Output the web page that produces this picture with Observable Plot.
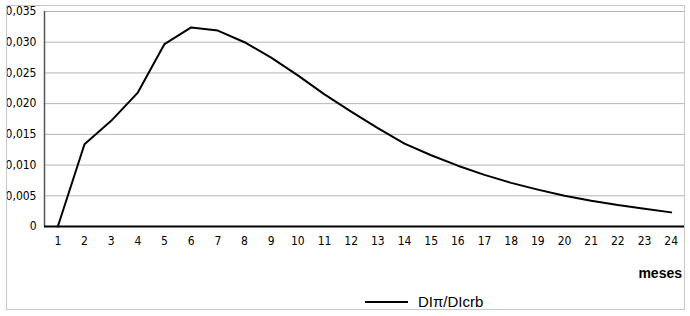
<!DOCTYPE html>
<html>
<head>
<meta charset="utf-8">
<script src="https://cdn.jsdelivr.net/npm/d3@7"></script>
<script src="https://cdn.jsdelivr.net/npm/@observablehq/plot@0.6"></script>
<style>
  html, body { margin: 0; padding: 0; background: #fff; }
  #wrap { position: relative; width: 690px; height: 316px; overflow: hidden; }
  #wrap svg { position: absolute; left: 0; top: 0; }
  #border { position: absolute; left: 6px; top: 5px; width: 679px; height: 305px; box-sizing: border-box; border: 1px solid #c8c8c8; pointer-events: none; }
  #meses { position: absolute; right: 8px; top: 265px; font: bold 14px "Liberation Sans", Arial, sans-serif; line-height: 16px; color: #000; }
  #legline { position: absolute; left: 365px; top: 301px; width: 43px; height: 2px; background: #000; }
  #legtext { position: absolute; left: 418px; top: 293px; font: 15px "Liberation Sans", Arial, sans-serif; line-height: 17px; color: #000; }
</style>
</head>
<body>
<div id="wrap">
  <div id="border"></div>
  <div id="meses">meses</div>
  <div id="legline"></div>
  <div id="legtext">DIπ/DIcrb</div>
</div>
<script>
const months = [1,2,3,4,5,6,7,8,9,10,11,12,13,14,15,16,17,18,19,20,21,22,23,24];
const values = [0, 0.0134, 0.0172, 0.0218, 0.0297, 0.0324, 0.0319, 0.0300, 0.0275, 0.0246, 0.0215, 0.0187, 0.0160, 0.0135, 0.0116, 0.0099, 0.0084, 0.0071, 0.0060, 0.0050, 0.0042, 0.0035, 0.0029, 0.0023];
const yTicks = [0, 0.005, 0.010, 0.015, 0.020, 0.025, 0.030, 0.035];
const seriesName = "DIπ/DIcrb";

const data = months.map((m, i) => ({month: m, value: values[i]}));
const fmt = d => d === 0 ? "0" : d.toFixed(3).replace(".", ",");

const chart = Plot.plot({
  width: 690,
  height: 316,
  marginLeft: 44,
  marginRight: 6,
  marginTop: 11,
  marginBottom: 90,
  style: { fontFamily: "'DejaVu Sans Condensed', 'DejaVu Sans', sans-serif", fontSize: "12px", color: "#000", background: "transparent" },
  x: { domain: [0.5, 24.5], ticks: months, tickFormat: d => String(d), tickSize: 0, tickPadding: 10, label: null },
  y: { domain: [0, 0.035], ticks: yTicks, tickFormat: fmt, tickSize: 0, tickPadding: 8, label: null },
  marks: [
    Plot.ruleY(yTicks.slice(1), { stroke: "#b4b4b4", strokeWidth: 1 }),
    Plot.ruleX([0.5], { stroke: "#555", strokeWidth: 1.5 }),
    Plot.ruleX([24.5], { stroke: "#777", strokeWidth: 1 }),
    Plot.ruleY([0], { stroke: "#000", strokeWidth: 2 }),
    Plot.line(data, { x: "month", y: "value", stroke: "#000", strokeWidth: 2 })
  ]
});
document.getElementById("wrap").prepend(chart);
</script>
</body>
</html>
